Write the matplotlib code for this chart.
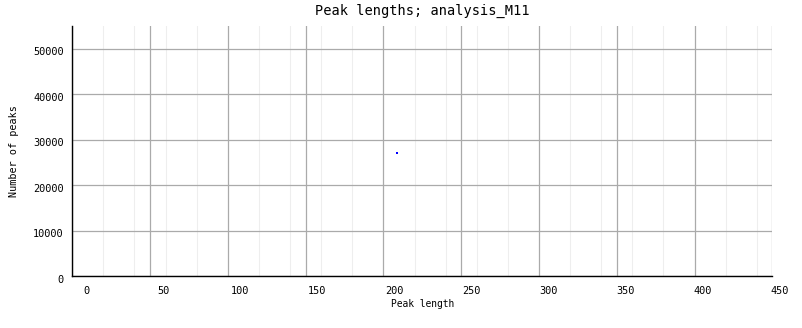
import matplotlib
matplotlib.use('Agg')
import matplotlib.pyplot as plt
import matplotlib.transforms as mtransforms

# data
peak_length = [209]
n_peaks = [27000]

x_ticks = [0, 50, 100, 150, 200, 250, 300, 350, 400, 450]
y_ticks = [0, 10000, 20000, 30000, 40000, 50000]

plt.rcParams['font.family'] = 'DejaVu Sans Mono'

fig = plt.figure(figsize=(8.02, 3.28), dpi=100)
ax = fig.add_axes([0.0901, 0.1576, 0.963 - 0.0901, 0.9207 - 0.1576])

ax.set_xlim(0, 450)
ax.set_ylim(0, 55000)

# grid: major every 50, minor every 20 on x
ax.set_xticks(x_ticks)
ax.set_xticks([v for v in range(0, 451, 20) if v % 50], minor=True)
ax.set_yticks(y_ticks)
ax.grid(which='major', axis='both', color='#aaaaaa', linewidth=0.9, snap=True)
ax.grid(which='minor', axis='x', color='#eeeeee', linewidth=0.75, snap=True)
ax.set_axisbelow(True)

ax.plot(peak_length, n_peaks, 's', color='#0000ff', markersize=1.5,
        markeredgewidth=0, antialiased=False)

for s in ['top', 'right']:
    ax.spines[s].set_visible(False)
for s in ['left', 'bottom']:
    ax.spines[s].set_color('black')
    ax.spines[s].set_linewidth(1.0)

ax.tick_params(which='both', length=0)
ax.tick_params(axis='x', labelsize=7.4, pad=7)
ax.tick_params(axis='y', labelsize=7.4, pad=6)

# the tick labels sit a bit right of their gridlines
for i, lbl in enumerate(ax.get_xticklabels()):
    dx = (13.7 - 0.67 * i) / 100
    lbl.set_transform(lbl.get_transform() + mtransforms.ScaledTranslation(dx, 0, fig.dpi_scale_trans))
for lbl in ax.get_yticklabels():
    lbl.set_transform(lbl.get_transform() + mtransforms.ScaledTranslation(0, -2.5 / 100, fig.dpi_scale_trans))

ax.set_title('Peak lengths; analysis_M11', fontsize=9.8, pad=8)
ax.set_xlabel('Peak length', fontsize=6.9, labelpad=2)
ax.set_ylabel('Number of peaks', fontsize=7.3, labelpad=10)

fig.savefig('out.png', dpi=100)
